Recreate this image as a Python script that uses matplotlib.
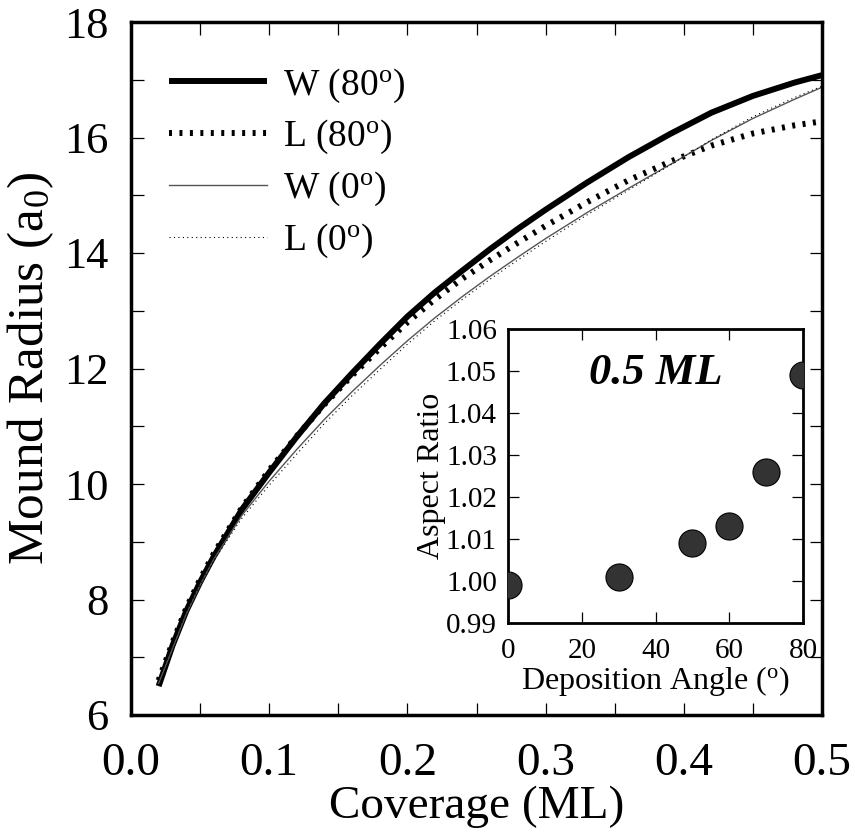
import numpy as np
from matplotlib import pyplot as plt
import matplotlib

plt.rcParams['font.family'] = ['Liberation Serif', 'DejaVu Serif']
plt.rcParams['mathtext.fontset'] = 'custom'
plt.rcParams['mathtext.rm'] = 'Liberation Serif'
plt.rcParams['mathtext.it'] = 'Liberation Serif:italic'
plt.rcParams['mathtext.bf'] = 'Liberation Serif:bold'

#%% data
coverage = [0.02, 0.03, 0.04, 0.05, 0.06, 0.08, 0.10, 0.12, 0.14, 0.16, 0.18, 0.20,
            0.22, 0.24, 0.26, 0.28, 0.30, 0.33, 0.36, 0.39, 0.42, 0.45, 0.48, 0.50]
w80 = [6.50, 7.20, 7.80, 8.30, 8.75, 9.55, 10.20, 10.82, 11.40, 11.92, 12.42, 12.90,
       13.32, 13.70, 14.07, 14.42, 14.75, 15.22, 15.66, 16.06, 16.43, 16.72, 16.95, 17.08]
l80 = [6.60, 7.25, 7.85, 8.35, 8.80, 9.58, 10.24, 10.83, 11.38, 11.88, 12.35, 12.80,
       13.20, 13.56, 13.88, 14.18, 14.47, 14.88, 15.26, 15.58, 15.86, 16.07, 16.21, 16.28]
w0 = [6.55, 7.15, 7.75, 8.25, 8.70, 9.45, 10.05, 10.60, 11.12, 11.60, 12.05, 12.48,
      12.88, 13.25, 13.60, 13.93, 14.25, 14.70, 15.12, 15.53, 15.95, 16.33, 16.66, 16.87]
l0 = [6.60, 7.20, 7.78, 8.25, 8.68, 9.40, 9.98, 10.52, 11.05, 11.53, 11.98, 12.42,
      12.83, 13.20, 13.55, 13.88, 14.20, 14.66, 15.09, 15.52, 15.96, 16.36, 16.69, 16.89]

angle = [0, 30, 50, 60, 70, 80]
aspect = [0.999, 1.001, 1.009, 1.013, 1.026, 1.049]

#%% set up figure
fig = plt.figure(figsize=(8.55, 8.36), dpi=100)
ax = fig.add_axes([131/855, 1-715/836, 691/855, 693/836])
axi = fig.add_axes([508/855, 1-623/836, 295/855, 294/836])

ax.plot(coverage, w80, color='k', lw=4.3, solid_capstyle='butt', label='W (80$^\\mathrm{o}$)')
ax.plot(coverage, l80, color='k', lw=4.3, ls=(0, (0.5, 1.25)), dash_capstyle='butt',
        label='L (80$^\\mathrm{o}$)')
ax.plot(coverage, w0, color='#555555', lw=1.0, label='W (0$^\\mathrm{o}$)')
ax.plot(coverage, l0, color='k', lw=0.8, ls=(0, (1, 3)), label='L (0$^\\mathrm{o}$)')

ax.set_xlim([0, 0.5])
ax.set_ylim([6, 18])
ax.set_xticks(np.arange(0, 0.51, 0.1))
ax.set_xticks(np.arange(0, 0.51, 0.05), minor=True)
ax.set_xticklabels(['0.0', '0.1', '0.2', '0.3', '0.4', '0.5'])
ax.set_yticks(np.arange(6, 18.1, 2))
ax.set_yticks(np.arange(6, 18.1, 1), minor=True)
ax.tick_params(which='both', direction='in', top=True, right=True, length=9, width=0.9)
ax.tick_params(axis='x', which='major', labelsize=34, pad=20)
ax.tick_params(axis='y', which='major', labelsize=32, pad=16)
for s in ax.spines.values():
    s.set_linewidth(2.5)
ax.set_xlabel('Coverage (ML)', fontsize=34, labelpad=0)
ax.set_ylabel('Mound Radius (a$_\\mathrm{0}$)', fontsize=37, labelpad=6)

ax.legend(loc='upper left', bbox_to_anchor=(0.055, 0.936), frameon=False, fontsize=27,
          handlelength=2.6, handletextpad=0.45, labelspacing=0.36, borderpad=0, borderaxespad=0)

# inset
axi.scatter(angle, aspect, s=19.5**2, color='#333333', edgecolor='k', linewidth=0.8, zorder=3)
axi.set_xlim([0, 80])
axi.set_ylim([0.99, 1.06])
axi.set_xticks([0, 20, 40, 60, 80])
axi.set_yticks(np.arange(0.99, 1.0605, 0.01))
axi.set_yticklabels(['0.99', '1.00', '1.01', '1.02', '1.03', '1.04', '1.05', '1.06'])
axi.tick_params(which='both', direction='in', top=True, right=True, length=8, width=0.9,
                labelsize=21)
axi.tick_params(axis='x', pad=11)
axi.tick_params(axis='y', pad=8)
for s in axi.spines.values():
    s.set_linewidth(2.0)
axi.set_xlabel('Deposition Angle ($^\\mathrm{o}$)', fontsize=23, labelpad=0)
axi.set_ylabel('Aspect Ratio', fontsize=23, labelpad=0)
axi.text(0.5, 0.85, '0.5 ML', transform=axi.transAxes, ha='center', va='center',
         fontsize=32, fontweight='bold', fontstyle='italic')

plt.savefig('out.png', dpi=100)
